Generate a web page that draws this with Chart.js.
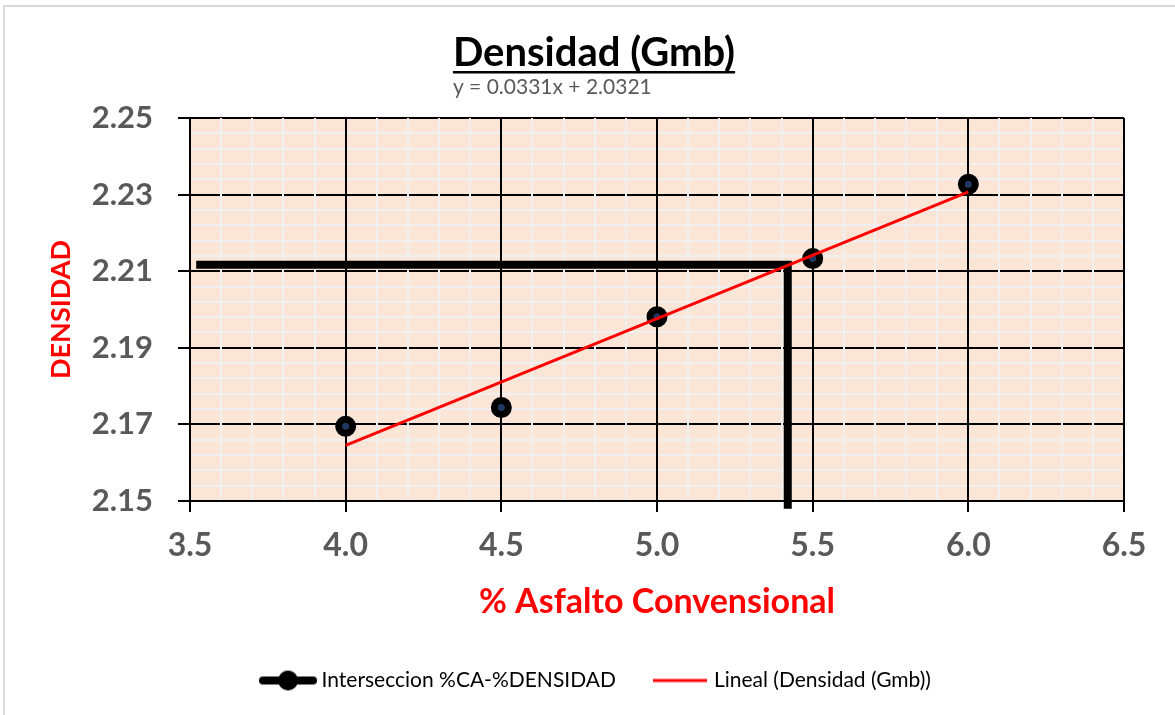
<!DOCTYPE html>
<html>
<head>
<meta charset="utf-8">
<title>Densidad (Gmb)</title>
<script src="https://cdn.jsdelivr.net/npm/chart.js@4.4.0/dist/chart.umd.min.js"></script>
<style>
  body { margin: 0; background: #fff; }
  #marco { position: absolute; left: 3px; top: 5px; width: 1180px; height: 720px;
           border-left: 2px solid #d9d9d9; border-top: 2px solid #d9d9d9; }
  #grafico { position: absolute; left: 0; top: 0; }
</style>
</head>
<body>
<div id="marco"></div>
<canvas id="grafico" width="1175" height="715"></canvas>
<script>
// Datos de laboratorio: % asfalto vs densidad
const asfalto = [4.0, 4.5, 5.0, 5.5, 6.0];
const densidad = [2.1695, 2.1744, 2.1981, 2.2133, 2.2327];

// Linea de tendencia (extremos)
const asfaltoTendencia = [4.0, 6.0];
const densidadTendencia = [2.1645, 2.2307];

// Interseccion %CA - densidad
const asfaltoInterseccion = [3.52, 5.42, 5.42];
const densidadInterseccion = [2.2117, 2.2117, 2.148];

// Rango de ejes
const ejeX = [3.5, 6.5];
const ejeY = [2.15, 2.25];

const puntos = (xs, ys) => xs.map((x, i) => ({ x: x, y: ys[i] }));
const esMayorX = v => Math.abs(v * 2 - Math.round(v * 2)) < 1e-6;
const esMayorY = v => {
    const k = (v - ejeY[0]) / 0.02;
    return Math.abs(k - Math.round(k)) < 1e-6;
};

// Iconos para la leyenda
function iconoInterseccion() {
    const c = document.createElement('canvas');
    c.width = 58; c.height = 22;
    const g = c.getContext('2d');
    g.strokeStyle = '#000';
    g.lineWidth = 8;
    g.lineCap = 'round';
    g.beginPath(); g.moveTo(4, 11); g.lineTo(54, 11); g.stroke();
    g.fillStyle = '#000';
    g.beginPath(); g.arc(29, 11, 10, 0, Math.PI * 2); g.fill();
    return c;
}
function iconoLineal() {
    const c = document.createElement('canvas');
    c.width = 54; c.height = 6;
    const g = c.getContext('2d');
    g.strokeStyle = '#ff0000';
    g.lineWidth = 3;
    g.beginPath(); g.moveTo(0, 3); g.lineTo(54, 3); g.stroke();
    return c;
}

// Fondo del area de trazado
const fondoArea = {
    id: 'fondoArea',
    beforeDraw(chart) {
        const a = chart.chartArea, ctx = chart.ctx;
        ctx.save();
        ctx.fillStyle = '#fae5d7';
        ctx.fillRect(a.left, a.top, a.right - a.left, a.bottom - a.top);
        ctx.restore();
    }
};

// Titulo subrayado y ecuacion
const tituloSubrayado = {
    id: 'tituloSubrayado',
    afterDraw(chart) {
        const ctx = chart.ctx;
        const texto = 'Densidad (Gmb)';
        ctx.save();
        ctx.font = 'bold 40px Lato';
        ctx.fillStyle = '#000';
        ctx.textBaseline = 'alphabetic';
        const w = ctx.measureText(texto).width;
        const x0 = 594 - w / 2;
        ctx.fillText(texto, x0, 66);
        ctx.fillRect(x0, 71, w, 2.5);
        ctx.font = '21px Lato';
        ctx.fillStyle = '#595959';
        ctx.fillText('y = 0.0331x + 2.0321', x0, 94);
        ctx.restore();
    }
};

const ctx = document.getElementById('grafico').getContext('2d');
const grafico = new Chart(ctx, {
    type: 'scatter',
    data: {
        datasets: [{
            label: 'Lineal (Densidad (Gmb))',
            data: puntos(asfaltoTendencia, densidadTendencia),
            showLine: true,
            borderColor: '#ff0000',
            borderWidth: 3,
            pointRadius: 0,
            order: 1
        }, {
            label: 'Densidad (Gmb)',
            data: puntos(asfalto, densidad),
            pointRadius: 7,
            pointBackgroundColor: '#1f3864',
            pointBorderColor: '#000',
            pointBorderWidth: 7,
            order: 2
        }, {
            label: 'Interseccion %CA-%DENSIDAD',
            data: puntos(asfaltoInterseccion, densidadInterseccion),
            showLine: true,
            borderColor: '#000',
            borderWidth: 8,
            borderJoinStyle: 'miter',
            pointRadius: 0,
            clip: false,
            order: 3
        }]
    },
    options: {
        responsive: false,
        animation: false,
        devicePixelRatio: 1,
        layout: { padding: { top: 118, right: 51, left: 72, bottom: 14 } },
        scales: {
            x: {
                type: 'linear',
                min: ejeX[0],
                max: ejeX[1],
                afterFit: s => { s.height = 159; },
                border: { color: '#000', width: 2 },
                grid: {
                    z: -1,
                    color: c => esMayorX(c.tick.value) ? '#000' : '#f0f0f0',
                    lineWidth: 2,
                    tickColor: c => esMayorX(c.tick.value) ? '#000' : 'rgba(0,0,0,0)',
                    tickLength: 11,
                    tickWidth: 2
                },
                ticks: {
                    stepSize: 0.1,
                    autoSkip: false,
                    maxRotation: 0,
                    minRotation: 0,
                    padding: 14,
                    color: '#595959',
                    font: { family: 'Lato', size: 32, weight: 'bold' },
                    callback: v => esMayorX(v) ? v.toFixed(1) : ''
                },
                title: {
                    display: true,
                    text: '% Asfalto Convensional',
                    color: '#ff0000',
                    font: { family: 'Lato', size: 34, weight: 'bold' },
                    padding: { top: 4, bottom: 38 }
                }
            },
            y: {
                type: 'linear',
                min: ejeY[0],
                max: ejeY[1],
                afterFit: s => { s.width = 118; },
                border: { color: '#000', width: 2 },
                grid: {
                    z: -2,
                    color: c => esMayorY(c.tick.value) ? '#000' : '#f0f0f0',
                    lineWidth: 2,
                    tickColor: c => esMayorY(c.tick.value) ? '#000' : 'rgba(0,0,0,0)',
                    tickLength: 12,
                    tickWidth: 2
                },
                ticks: {
                    stepSize: 0.004,
                    autoSkip: false,
                    padding: 25,
                    color: '#595959',
                    font: { family: 'Lato', size: 31, weight: 'bold' },
                    callback: v => esMayorY(v) ? v.toFixed(2) : ''
                },
                title: {
                    display: true,
                    text: 'DENSIDAD',
                    color: '#ff0000',
                    font: { family: 'Lato', size: 27, weight: 'bold' },
                    padding: { top: -27, bottom: 0 }
                }
            }
        },
        plugins: {
            legend: {
                position: 'bottom',
                labels: {
                    usePointStyle: true,
                    pointStyleWidth: 46,
                    padding: 10,
                    color: '#000',
                    font: { family: 'Lato', size: 21 },
                    generateLabels: function(chart) {
                        return [{
                            text: 'Interseccion %CA-%DENSIDAD\u2003\u2003',
                            pointStyle: iconoInterseccion(),
                            datasetIndex: 2,
                            hidden: false,
                            lineWidth: 0,
                            fontColor: '#000'
                        }, {
                            text: 'Lineal (Densidad (Gmb))',
                            pointStyle: iconoLineal(),
                            datasetIndex: 0,
                            hidden: false,
                            lineWidth: 0,
                            fontColor: '#000'
                        }];
                    }
                }
            },
            title: { display: false },
            tooltip: { enabled: false }
        }
    },
    plugins: [fondoArea, tituloSubrayado]
});
</script>
</body>
</html>
